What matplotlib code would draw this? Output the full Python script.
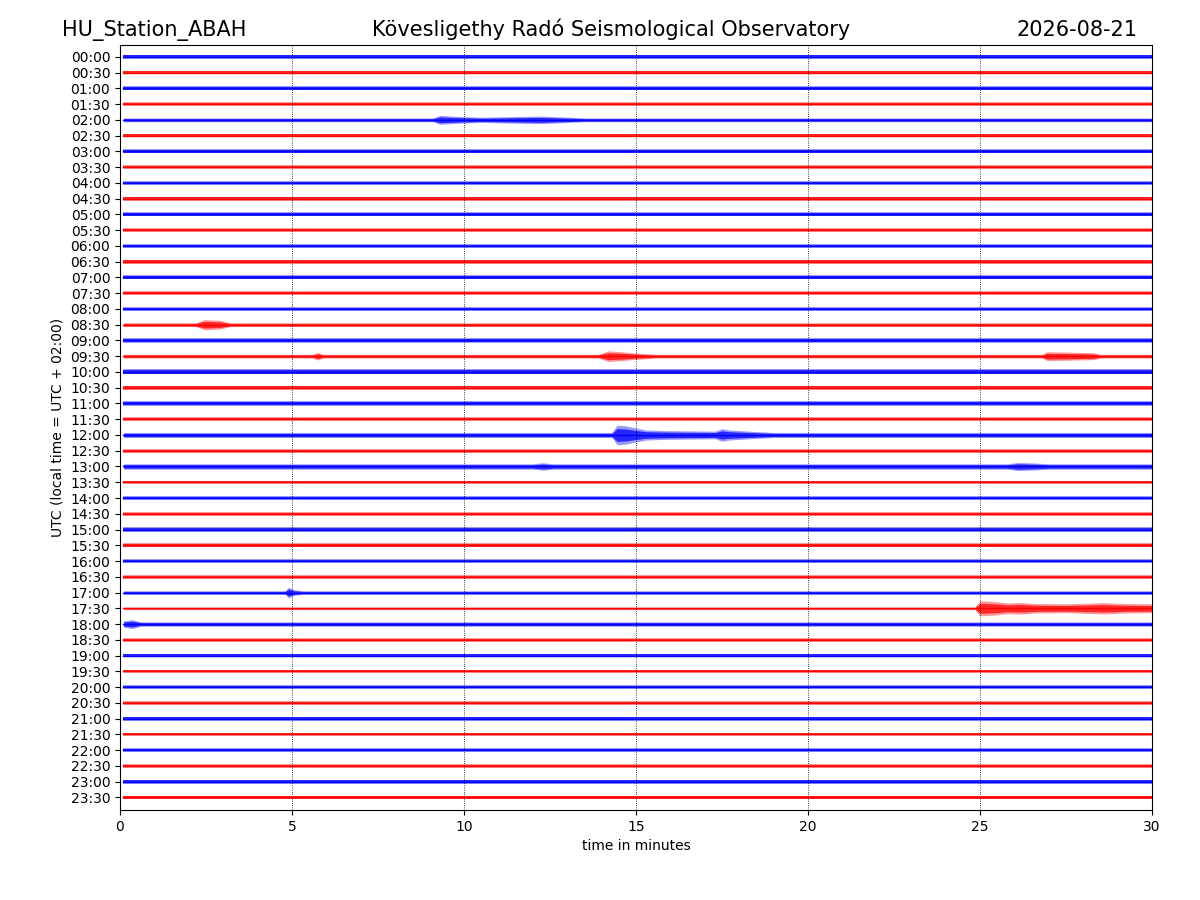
import numpy as np
import matplotlib

matplotlib.use('Agg')
import matplotlib.pyplot as plt

# Станция и подписи
station = 'HU_Station_ABAH'
observatory = 'Kövesligethy Radó Seismological Observatory'
date_str = '2026-08-21'

# Подписи строк (по 30 минут)
row_labels = ['%02d:%02d' % (h, m) for h in range(24) for m in (0, 30)]

# Фоновый шум каждой строки (полуширина в долях шага строки), оценено по картинке
base_noise = [
    0.13, 0.12, 0.13, 0.12, 0.12, 0.12, 0.13, 0.12,
    0.13, 0.12, 0.13, 0.12, 0.13, 0.12, 0.13, 0.12,
    0.13, 0.12, 0.15, 0.12, 0.16, 0.12, 0.16, 0.12,
    0.16, 0.12, 0.17, 0.11, 0.13, 0.11, 0.14, 0.12,
    0.12, 0.11, 0.11, 0.08, 0.14, 0.11, 0.12, 0.11,
    0.12, 0.11, 0.13, 0.11, 0.13, 0.11, 0.12, 0.11,
]

# Огибающие событий: строка -> [(минута, полуширина), ...]
events = {
    4: [(9.1, 0.12), (9.3, 0.28), (9.8, 0.22), (10.5, 0.16), (11.3, 0.2),
        (12.2, 0.24), (13.0, 0.17), (13.5, 0.12)],
    17: [(2.2, 0.12), (2.45, 0.32), (2.9, 0.28), (3.2, 0.12)],
    19: [(5.6, 0.12), (5.75, 0.24), (5.9, 0.12),
         (13.9, 0.12), (14.2, 0.34), (14.6, 0.28), (15.0, 0.2), (15.6, 0.12),
         (26.8, 0.12), (26.95, 0.28), (27.5, 0.26), (28.3, 0.22), (28.5, 0.12)],
    24: [(14.3, 0.16), (14.45, 0.62), (14.7, 0.58), (15.0, 0.44), (15.3, 0.32),
         (15.8, 0.28), (16.5, 0.26), (17.3, 0.24), (17.5, 0.4), (17.7, 0.32),
         (18.3, 0.24), (19.0, 0.16)],
    26: [(12.0, 0.17), (12.3, 0.24), (12.6, 0.17),
         (25.8, 0.17), (26.1, 0.26), (26.6, 0.22), (27.0, 0.17)],
    34: [(4.8, 0.11), (4.9, 0.34), (5.05, 0.18), (5.3, 0.11)],
    35: [(24.85, 0.08), (25.0, 0.48), (25.4, 0.44), (25.8, 0.34), (26.2, 0.37),
         (26.6, 0.3), (27.5, 0.28), (28.6, 0.36), (29.2, 0.3), (30.0, 0.28)],
    36: [(0.1, 0.2), (0.35, 0.28), (0.6, 0.14)],
}

t_start, t_end = 0.1, 30.0
colors = ['b', 'r']

fig = plt.figure(figsize=(12, 9), dpi=100)
ax = fig.add_axes([0.1, 0.1, 0.86, 0.85])

for i, label in enumerate(row_labels):
    c = colors[i % 2]
    knots = events.get(i, [])
    xs = np.array([t_start] + [k[0] for k in knots] + [t_end])
    hw = np.array([base_noise[i]] + [k[1] for k in knots] + [base_noise[i]])
    # огибающая шума + более плотное ядро
    ax.fill_between(xs, i - hw, i + hw, color=c, alpha=0.4, lw=0)
    ax.fill_between(xs, i - 0.65 * hw, i + 0.65 * hw, color=c, alpha=0.75, lw=0)
    ax.plot([t_start, t_end], [i, i], color=c, lw=1.0)

for xv in [5, 10, 15, 20, 25]:
    ax.axvline(xv, color='k', ls=':', lw=0.6)

ax.set_xlim(0, 30)
ax.set_ylim(47.8, -0.75)
ax.set_yticks(range(len(row_labels)))
ax.set_yticklabels(row_labels)
ax.set_xlabel('time in minutes')
ax.set_ylabel('UTC (local time = UTC + 02:00)')

fig.text(0.052, 0.96, station, fontsize=15, ha='left', va='baseline')
fig.text(0.509, 0.96, observatory, fontsize=15, ha='center', va='baseline')
fig.text(0.9475, 0.96, date_str, fontsize=15, ha='right', va='baseline')

fig.savefig('out.png')
plt.close('all')
